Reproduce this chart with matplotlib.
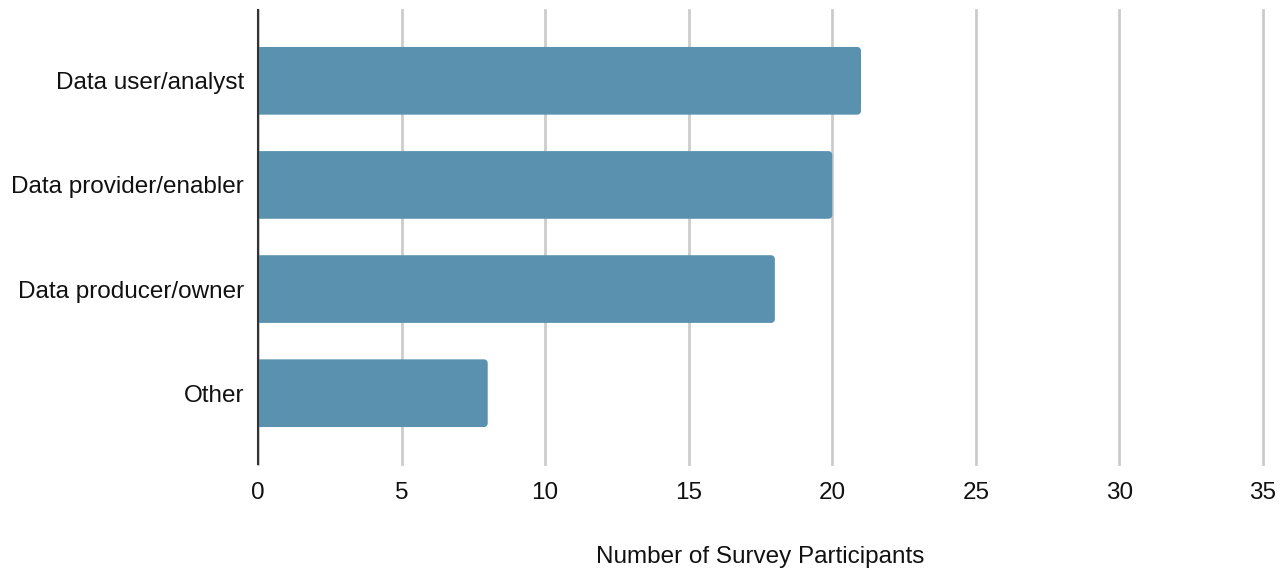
import numpy as np
import matplotlib.pyplot as plt
from matplotlib.patches import Polygon

categories = ["Data user/analyst", "Data provider/enabler", "Data producer/owner", "Other"]
participants = [21, 20, 18, 8]
x_ticks = [0, 5, 10, 15, 20, 25, 30, 35]

plt.rcParams['font.family'] = ['Liberation Sans', 'DejaVu Sans']

fig = plt.figure(figsize=(12.87, 5.74), dpi=100)
ax = fig.add_axes([258 / 1287, 1 - 464 / 574, (1263 - 258) / 1287, (464 - 10) / 574])

bar_color = "#5991ae"
bar_h = 0.65
ypos = list(range(len(categories)))
bars = ax.barh(ypos, participants, height=bar_h, color=bar_color, zorder=3)

# replace each bar with an outline whose right-hand corners are slightly rounded
rx, ry = 0.13, 0.036
theta = np.linspace(0, np.pi / 2, 8)
for b in bars:
    b.set_visible(False)
    x0, y0 = b.get_x(), b.get_y()
    x1, y1 = x0 + b.get_width(), y0 + b.get_height()
    top = [(x1 - rx + rx * np.sin(t), y0 + ry - ry * np.cos(t)) for t in theta]
    bot = [(x1 - rx + rx * np.cos(t), y1 - ry + ry * np.sin(t)) for t in theta]
    pts = [(x0, y0)] + top + bot + [(x0, y1)]
    ax.add_patch(Polygon(pts, closed=True, facecolor=bar_color, edgecolor="none", zorder=3))

ax.set_xlim(0, 35)
ax.set_ylim(3.68, -0.68)
ax.set_xticks(x_ticks)
ax.set_xticklabels([str(t) for t in x_ticks], fontsize=17.5, color="#111111")
ax.set_yticks(ypos)
ax.set_yticklabels(categories, fontsize=17.5, color="#111111")
ax.tick_params(axis="both", length=0)
ax.tick_params(axis="x", pad=13)
ax.tick_params(axis="y", pad=10)

ax.grid(axis="x", color="#cccccc", linewidth=2, zorder=0)
for gl in ax.get_xgridlines():
    gl.set_clip_on(False)
for s in ["top", "right", "bottom"]:
    ax.spines[s].set_visible(False)
ax.spines["left"].set_color("#333333")
ax.spines["left"].set_linewidth(1.5)
ax.spines["left"].set_zorder(4)

ax.set_xlabel("Number of Survey Participants", fontsize=17.5, color="#111111", labelpad=30)

fig.savefig("out.png", dpi=100, facecolor="white")
